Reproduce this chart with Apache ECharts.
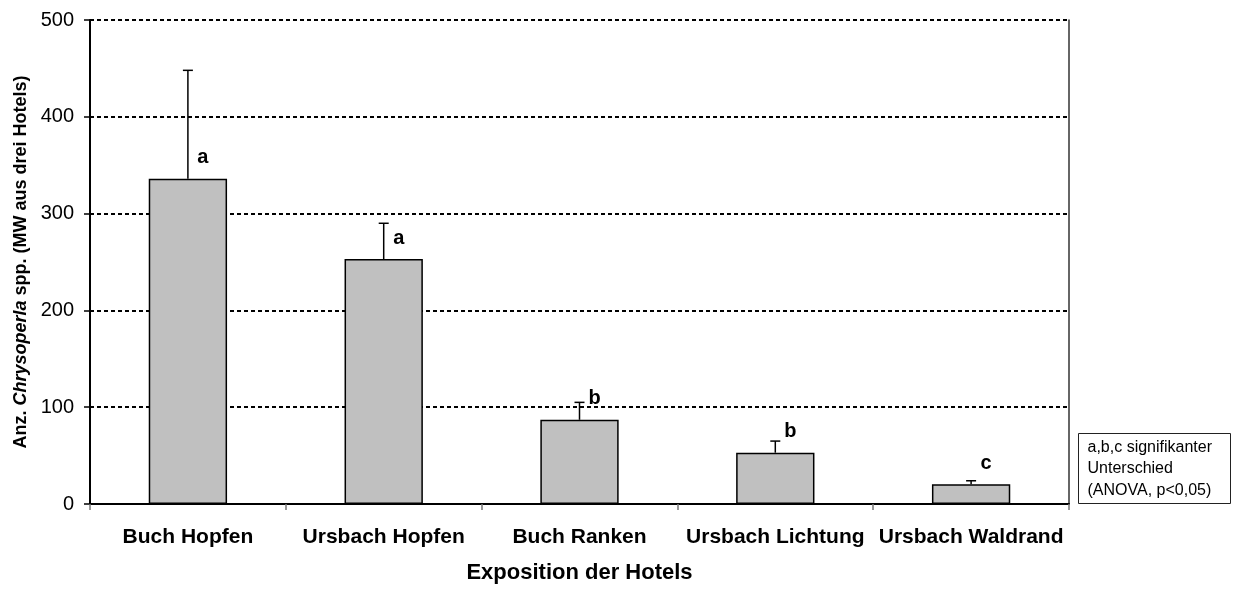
<!DOCTYPE html>
<html>
<head>
<meta charset="utf-8">
<script src="https://cdn.jsdelivr.net/npm/echarts@6/dist/echarts.min.js"></script>
<style>
html,body{margin:0;padding:0;background:#fff;}
#chart{width:1236px;height:590px;}
</style>
</head>
<body>
<div id="chart"></div>
<script>
var categories = ['Buch Hopfen', 'Ursbach Hopfen', 'Buch Ranken', 'Ursbach Lichtung', 'Ursbach Waldrand'];
var means = [336, 253, 87, 53, 20.5];
var errors = [112, 37, 18, 12, 3.5];
var letters = ['a', 'a', 'b', 'b', 'c'];
var yTicks = [0, 100, 200, 300, 400, 500];
var noteLines = ['a,b,c signifikanter', 'Unterschied', '(ANOVA, p<0,05)'];

var FONT = '"Liberation Sans", Arial, sans-serif';
var chart = echarts.init(document.getElementById('chart'), null, {renderer: 'canvas'});

var errData = means.map(function (m, i) { return [i, m, m + errors[i], letters[i]]; });

var option = {
  animation: false,
  backgroundColor: '#ffffff',
  textStyle: {fontFamily: FONT},
  grid: {left: 90, right: 167, top: 20, bottom: 86, containLabel: false},
  xAxis: {
    type: 'category',
    data: categories,
    boundaryGap: true,
    axisLine: {show: true, lineStyle: {color: '#000', width: 2}},
    axisTick: {show: true, length: 6, inside: false, lineStyle: {color: '#777', width: 1.5}},
    axisLabel: {show: true, color: '#000', fontSize: 21, fontWeight: 'bold', fontFamily: FONT, margin: 23, interval: 0},
    name: 'Exposition der Hotels',
    nameLocation: 'middle',
    nameGap: 58,
    nameTextStyle: {color: '#000', fontSize: 22, fontWeight: 'bold', fontFamily: FONT}
  },
  yAxis: [{
    type: 'value',
    min: yTicks[0],
    max: yTicks[yTicks.length - 1],
    interval: 100,
    axisLine: {show: true, lineStyle: {color: '#000', width: 2}},
    axisTick: {show: true, length: 6, inside: false, lineStyle: {color: '#000', width: 1.5}},
    axisLabel: {show: true, color: '#000', fontSize: 20, fontFamily: FONT, margin: 16},
    splitLine: {show: true, lineStyle: {color: '#000', width: 2, type: [4, 3]}},
    name: '{n|Anz. }{i|Chrysoperla}{n| spp. (MW aus drei Hotels)}',
    nameLocation: 'middle',
    nameRotate: 90,
    nameGap: 60,
    nameTextStyle: {
      color: '#000', fontSize: 18, fontWeight: 'bold', fontFamily: FONT,
      rich: {
        n: {fontSize: 18, fontWeight: 'bold', fontFamily: FONT, color: '#000'},
        i: {fontSize: 18, fontWeight: 'bold', fontStyle: 'italic', fontFamily: FONT, color: '#000'}
      }
    }
  }, {
    type: 'value',
    position: 'right',
    min: yTicks[0],
    max: yTicks[yTicks.length - 1],
    interval: 100,
    axisLine: {show: true, lineStyle: {color: '#333', width: 1.5}},
    axisTick: {show: false},
    axisLabel: {show: false},
    splitLine: {show: false}
  }],
  series: [{
    type: 'bar',
    data: means,
    barWidth: '40%',
    itemStyle: {color: '#c0c0c0', borderColor: '#000', borderWidth: 1.5},
    z: 2
  }, {
    type: 'custom',
    data: errData,
    z: 3,
    renderItem: function (params, api) {
      var i = api.value(0);
      var base = api.coord([i, api.value(1)]);
      var top = api.coord([i, api.value(2)]);
      var cap = 5;
      return {
        type: 'group',
        children: [{
          type: 'line',
          shape: {x1: base[0], y1: base[1], x2: top[0], y2: top[1]},
          style: {stroke: '#000', lineWidth: 1.5}
        }, {
          type: 'line',
          shape: {x1: top[0] - cap, y1: top[1], x2: top[0] + cap, y2: top[1]},
          style: {stroke: '#000', lineWidth: 1.5}
        }, {
          type: 'text',
          style: {
            text: letters[params.dataIndex],
            x: base[0] + 15, y: base[1] - 21,
            align: 'center', verticalAlign: 'middle',
            fontSize: 20, fontWeight: 'bold', fontFamily: FONT, fill: '#000'
          }
        }]
      };
    }
  }],
  graphic: [{
    type: 'group',
    left: 1078,
    top: 433,
    children: [{
      type: 'rect',
      shape: {x: 0, y: 0, width: 152, height: 70},
      style: {fill: '#fff', stroke: '#222', lineWidth: 1}
    }, {
      type: 'text',
      style: {
        text: noteLines.join('\n'),
        x: 9, y: 3,
        fontSize: 16, lineHeight: 21.5, fontFamily: FONT, fill: '#000'
      }
    }]
  }]
};
chart.setOption(option);
</script>
</body>
</html>
